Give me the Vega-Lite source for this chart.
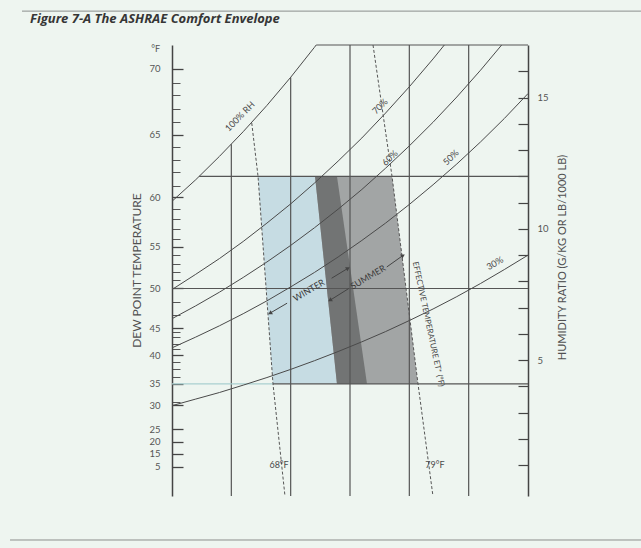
{
  "$schema": "https://vega.github.io/schema/vega-lite/v6.json",
  "width": 356,
  "height": 451,
  "autosize": {"type": "none"},
  "padding": {"left": 172, "top": 45, "right": 113, "bottom": 52},
  "background": "#eef5f0",
  "config": {"view": {"stroke": null}, "font": "Lato", "axis": {"grid": false, "labelOverlap": false}},
  "title": {"text": "Figure 7-A The ASHRAE Comfort Envelope", "anchor": "start", "frame": "group", "dx": -142, "offset": -25.5, "baseline": "alphabetic", "font": "Open Sans", "fontSize": 13, "fontStyle": "italic", "fontWeight": "bold", "color": "#363636"},
  "datasets": {
    "zones": [
      {"zone": "winter", "W": 12, "TL": 67.25, "TR": 73.9},
      {"zone": "winter", "W": 4.1, "TL": 68.51, "TR": 76.43},
      {"zone": "summer", "W": 12, "TL": 72.05, "TR": 78.54},
      {"zone": "summer", "W": 4.1, "TL": 73.9, "TR": 80.73},
      {"zone": "overlap", "W": 12, "TL": 72.05, "TR": 73.9},
      {"zone": "overlap", "W": 4.1, "TL": 73.9, "TR": 76.43}
    ],
    "curves": [
      {"rh": "100%", "T": 60, "W": 11.05}, {"rh": "100%", "T": 62, "W": 11.87}, {"rh": "100%", "T": 64, "W": 12.76}, {"rh": "100%", "T": 66, "W": 13.7}, {"rh": "100%", "T": 68, "W": 14.7}, {"rh": "100%", "T": 70, "W": 15.77}, {"rh": "100%", "T": 72, "W": 16.91}, {"rh": "100%", "T": 72.15, "W": 17},
      {"rh": "70%", "T": 60, "W": 7.69}, {"rh": "70%", "T": 62, "W": 8.27}, {"rh": "70%", "T": 64, "W": 8.87}, {"rh": "70%", "T": 66, "W": 9.52}, {"rh": "70%", "T": 68, "W": 10.22}, {"rh": "70%", "T": 70, "W": 10.95}, {"rh": "70%", "T": 72, "W": 11.74}, {"rh": "70%", "T": 74, "W": 12.58}, {"rh": "70%", "T": 76, "W": 13.46}, {"rh": "70%", "T": 78, "W": 14.41}, {"rh": "70%", "T": 80, "W": 15.41}, {"rh": "70%", "T": 82, "W": 16.47}, {"rh": "70%", "T": 82.95, "W": 17},
      {"rh": "60%", "T": 60, "W": 6.58}, {"rh": "60%", "T": 62, "W": 7.07}, {"rh": "60%", "T": 64, "W": 7.59}, {"rh": "60%", "T": 66, "W": 8.15}, {"rh": "60%", "T": 68, "W": 8.74}, {"rh": "60%", "T": 70, "W": 9.37}, {"rh": "60%", "T": 72, "W": 10.04}, {"rh": "60%", "T": 74, "W": 10.75}, {"rh": "60%", "T": 76, "W": 11.5}, {"rh": "60%", "T": 78, "W": 12.31}, {"rh": "60%", "T": 80, "W": 13.16}, {"rh": "60%", "T": 82, "W": 14.06}, {"rh": "60%", "T": 84, "W": 15.02}, {"rh": "60%", "T": 86, "W": 16.04}, {"rh": "60%", "T": 87.78, "W": 17},
      {"rh": "50%", "T": 60, "W": 5.47}, {"rh": "50%", "T": 62, "W": 5.88}, {"rh": "50%", "T": 64, "W": 6.31}, {"rh": "50%", "T": 66, "W": 6.77}, {"rh": "50%", "T": 68, "W": 7.26}, {"rh": "50%", "T": 70, "W": 7.79}, {"rh": "50%", "T": 72, "W": 8.34}, {"rh": "50%", "T": 74, "W": 8.93}, {"rh": "50%", "T": 76, "W": 9.56}, {"rh": "50%", "T": 78, "W": 10.22}, {"rh": "50%", "T": 80, "W": 10.93}, {"rh": "50%", "T": 82, "W": 11.68}, {"rh": "50%", "T": 84, "W": 12.47}, {"rh": "50%", "T": 86, "W": 13.31}, {"rh": "50%", "T": 88, "W": 14.2}, {"rh": "50%", "T": 90, "W": 15.15},
      {"rh": "30%", "T": 60, "W": 3.27}, {"rh": "30%", "T": 62, "W": 3.52}, {"rh": "30%", "T": 64, "W": 3.77}, {"rh": "30%", "T": 66, "W": 4.05}, {"rh": "30%", "T": 68, "W": 4.34}, {"rh": "30%", "T": 70, "W": 4.65}, {"rh": "30%", "T": 72, "W": 4.98}, {"rh": "30%", "T": 74, "W": 5.33}, {"rh": "30%", "T": 76, "W": 5.7}, {"rh": "30%", "T": 78, "W": 6.09}, {"rh": "30%", "T": 80, "W": 6.51}, {"rh": "30%", "T": 82, "W": 6.95}, {"rh": "30%", "T": 84, "W": 7.42}, {"rh": "30%", "T": 86, "W": 7.92}, {"rh": "30%", "T": 88, "W": 8.45}, {"rh": "30%", "T": 90, "W": 9.0}
    ],
    "vgrid": [
      {"T": 65, "W": -0.17, "W2": 13.22},
      {"T": 70, "W": -0.17, "W2": 15.77},
      {"T": 75, "W": -0.17, "W2": 17},
      {"T": 80, "W": -0.17, "W2": 17},
      {"T": 85, "W": -0.17, "W2": 17}
    ],
    "hgrid": [
      {"W": 17, "T": 72.15, "T2": 90},
      {"W": 12, "T": 62.29, "T2": 90},
      {"W": 7.73, "T": 60, "T2": 90},
      {"W": 4.1, "T": 68.51, "T2": 90}
    ],
    "hteal": [
      {"W": 4.1, "T": 60, "T2": 68.51}
    ],
    "et": [
      {"et": "68", "T": 66.72, "W": 14.03}, {"et": "68", "T": 67.25, "W": 12}, {"et": "68", "T": 68.51, "W": 4.1}, {"et": "68", "T": 69.52, "W": -0.17},
      {"et": "79", "T": 76.94, "W": 17}, {"et": "79", "T": 78.54, "W": 12}, {"et": "79", "T": 80.73, "W": 4.1}, {"et": "79", "T": 81.99, "W": -0.17}
    ],
    "arrows": [
      {"seg": "wl", "T": 68.26, "W": 6.79}, {"seg": "wl", "T": 69.7, "W": 7.17},
      {"seg": "wr", "T": 73.45, "W": 8.12}, {"seg": "wr", "T": 74.83, "W": 8.5},
      {"seg": "sl", "T": 73.31, "W": 7.28}, {"seg": "sl", "T": 74.9, "W": 7.73},
      {"seg": "sr", "T": 78.1, "W": 8.55}, {"seg": "sr", "T": 79.47, "W": 8.99}
    ],
    "heads": [
      {"dir": "left", "T": 68.26, "W": 6.79},
      {"dir": "right", "T": 74.83, "W": 8.5},
      {"dir": "left", "T": 73.31, "W": 7.28},
      {"dir": "right", "T": 79.47, "W": 8.99}
    ],
    "labels": [
      {"label": "100% RH", "T": 65.73, "W": 14.28},
      {"label": "70%", "T": 77.53, "W": 14.66},
      {"label": "60%", "T": 78.37, "W": 12.7},
      {"label": "50%", "T": 83.51, "W": 12.72},
      {"label": "30%", "T": 87.22, "W": 8.69},
      {"label": "WINTER", "T": 71.54, "W": 7.66},
      {"label": "SUMMER", "T": 76.52, "W": 8.16},
      {"label": "EFFECTIVE TEMPERATURE ET* (°F)", "T": 81.57, "W": 6.37},
      {"label": "68°F", "T": 69.02, "W": 1.01},
      {"label": "79°F", "T": 82.16, "W": 1.01},
      {"label": "°F", "T": 60, "W": 16.84}
    ],
    "chrome": [
      {"T": 47.36, "T2": 99.52, "W": 18.29},
      {"T": 46.35, "T2": 99.52, "W": -1.845}
    ]
  },
  "layer": [
    {
      "data": {"name": "zones"},
      "transform": [{"filter": "datum.zone == 'winter'"}],
      "mark": {"type": "area", "orient": "horizontal", "color": "#c6dce3", "opacity": 1},
      "encoding": {
        "y": {"field": "W", "type": "quantitative", "scale": {"domain": [-0.17, 17], "nice": false, "zero": false}, "axis": null},
        "x": {"field": "TL", "type": "quantitative", "scale": {"domain": [60, 90], "nice": false, "zero": false}, "axis": null, "stack": null},
        "x2": {"field": "TR"}
      }
    },
    {
      "data": {"name": "zones"},
      "transform": [{"filter": "datum.zone == 'summer'"}],
      "mark": {"type": "area", "orient": "horizontal", "color": "#a2a5a5", "opacity": 1},
      "encoding": {
        "y": {"field": "W", "type": "quantitative", "scale": {"domain": [-0.17, 17], "nice": false, "zero": false}, "axis": null},
        "x": {"field": "TL", "type": "quantitative", "scale": {"domain": [60, 90], "nice": false, "zero": false}, "axis": null, "stack": null},
        "x2": {"field": "TR"}
      }
    },
    {
      "data": {"name": "zones"},
      "transform": [{"filter": "datum.zone == 'overlap'"}],
      "mark": {"type": "area", "orient": "horizontal", "color": "#727474", "opacity": 1},
      "encoding": {
        "y": {"field": "W", "type": "quantitative", "scale": {"domain": [-0.17, 17], "nice": false, "zero": false}, "axis": null},
        "x": {"field": "TL", "type": "quantitative", "scale": {"domain": [60, 90], "nice": false, "zero": false}, "axis": null, "stack": null},
        "x2": {"field": "TR"}
      }
    },
    {
      "data": {"name": "vgrid"},
      "mark": {"type": "rule", "color": "#555555", "strokeWidth": 1.2},
      "encoding": {
        "x": {"field": "T", "type": "quantitative", "scale": {"domain": [60, 90], "nice": false, "zero": false}, "axis": null},
        "y": {"field": "W", "type": "quantitative", "scale": {"domain": [-0.17, 17], "nice": false, "zero": false},
              "axis": {"orient": "left", "values": [15.56, 15.08, 14.57, 14.06, 13.11, 12.63, 12.16, 11.65, 10.77, 10.39, 10.01, 9.63, 8.99, 8.68, 8.36, 8.04, 7.22, 6.71, 6.08, 5.89, 5.63, 5.44, 4.94, 4.68, 4.37, 3.41],
                       "labels": false, "domain": false, "title": null, "tickSize": -8, "tickColor": "#555555", "tickWidth": 1}},
        "y2": {"field": "W2"}
      }
    },
    {
      "data": {"name": "hgrid"},
      "mark": {"type": "rule", "color": "#555555", "strokeWidth": 1.2},
      "encoding": {
        "y": {"field": "W", "type": "quantitative", "scale": {"domain": [-0.17, 17], "nice": false, "zero": false},
              "axis": {"orient": "right", "values": [1, 2, 3, 4, 5, 6, 7, 8, 9, 10, 11, 12, 13, 14, 15, 16],
                       "labelExpr": "datum.value % 5 == 0 ? datum.label : ''",
                       "tickSize": -10, "tickColor": "#444444", "tickWidth": 1.2, "labelPadding": 19,
                       "domainColor": "#444444", "domainWidth": 1.5,
                       "labelFont": "Lato", "labelFontSize": 9.5, "labelColor": "#555555", "labelBaseline": "middle",
                       "title": "HUMIDITY RATIO (G/KG OR LB/1000 LB)", "titleX": 34, "titleY": 212, "titleAngle": -90,
                       "titleAlign": "center", "titleBaseline": "middle", "titleFont": "Lato", "titleFontSize": 11, "titleFontWeight": "normal", "titleColor": "#505050"}},
        "x": {"field": "T", "type": "quantitative", "scale": {"domain": [60, 90], "nice": false, "zero": false}, "axis": null},
        "x2": {"field": "T2"}
      }
    },
    {
      "data": {"name": "hteal"},
      "mark": {"type": "rule", "color": "#a9cfd0", "strokeWidth": 1.2},
      "encoding": {
        "y": {"field": "W", "type": "quantitative", "scale": {"domain": [-0.17, 17], "nice": false, "zero": false}, "axis": null},
        "x": {"field": "T", "type": "quantitative", "scale": {"domain": [60, 90], "nice": false, "zero": false}, "axis": null},
        "x2": {"field": "T2"}
      }
    },
    {
      "data": {"name": "curves"},
      "mark": {"type": "line", "color": "#4a4a4a", "strokeWidth": 1},
      "encoding": {
        "x": {"field": "T", "type": "quantitative", "scale": {"domain": [60, 90], "nice": false, "zero": false},
              "axis": {"orient": "bottom", "values": [60, 61, 62, 63, 64, 65, 66, 67, 68, 69, 70, 71, 72, 73, 74, 75, 76, 77, 78, 79, 80, 81, 82, 83, 84, 85, 86, 87, 88, 89, 90],
                       "labelExpr": "datum.value == 90 ? '90°F' : (datum.value % 10 == 0 ? datum.label : '')",
                       "labelFlush": false,
                       "labelAlign": {"condition": {"test": "datum.value == 60 || datum.value == 90", "value": "left"}, "value": "center"},
                       "labelOffset": {"condition": {"test": "datum.value == 90", "value": -4}, "value": 0},
                       "tickSize": -5, "tickColor": "#444444", "tickWidth": 1.2, "labelPadding": 15,
                       "domainColor": "#444444", "domainWidth": 1.5,
                       "labelFont": "Lato", "labelFontSize": 9.5, "labelColor": "#555555",
                       "title": "OPERATIVE TEMPERATURE", "titleX": 179, "titleY": 39, "titleAlign": "center", "titleBaseline": "middle",
                       "titleFont": "Lato", "titleFontSize": 12, "titleFontWeight": "normal", "titleColor": "#505050"}},
        "y": {"field": "W", "type": "quantitative", "scale": {"domain": [-0.17, 17], "nice": false, "zero": false},
              "axis": {"orient": "left", "values": [16.1, 13.58, 11.21, 9.31, 7.73, 6.21, 5.19, 4.1, 3.29, 2.37, 1.89, 1.43, 0.94],
                       "labelExpr": "['70','65','60','55','50','45','40','35','30','25','20','15','5'][indexof([16.1, 13.58, 11.21, 9.31, 7.73, 6.21, 5.19, 4.1, 3.29, 2.37, 1.89, 1.43, 0.94], datum.value)]",
                       "tickSize": -11, "tickColor": "#444444", "tickWidth": 1.3, "labelPadding": 23,
                       "domainColor": "#444444", "domainWidth": 1.5,
                       "labelFont": "Lato", "labelFontSize": 9.5, "labelColor": "#555555", "labelBaseline": "middle",
                       "title": "DEW POINT TEMPERATURE", "titleX": -36, "titleY": 225, "titleAngle": -90, "titleAlign": "center", "titleBaseline": "middle",
                       "titleFont": "Lato", "titleFontSize": 12, "titleFontWeight": "normal", "titleColor": "#505050"}},
        "detail": {"field": "rh", "type": "nominal"}
      }
    },
    {
      "data": {"name": "et"},
      "mark": {"type": "line", "color": "#555555", "strokeWidth": 1, "strokeDash": [3, 2]},
      "encoding": {
        "x": {"field": "T", "type": "quantitative", "scale": {"domain": [60, 90], "nice": false, "zero": false}, "axis": null},
        "y": {"field": "W", "type": "quantitative", "scale": {"domain": [-0.17, 17], "nice": false, "zero": false}, "axis": null},
        "detail": {"field": "et", "type": "nominal"},
        "order": {"field": "W", "type": "quantitative", "sort": "descending"}
      }
    },
    {
      "data": {"name": "arrows"},
      "mark": {"type": "line", "color": "#444444", "strokeWidth": 1},
      "encoding": {
        "x": {"field": "T", "type": "quantitative", "scale": {"domain": [60, 90], "nice": false, "zero": false}, "axis": null},
        "y": {"field": "W", "type": "quantitative", "scale": {"domain": [-0.17, 17], "nice": false, "zero": false}, "axis": null},
        "detail": {"field": "seg", "type": "nominal"}
      }
    },
    {
      "data": {"name": "heads"},
      "mark": {"type": "point", "filled": true, "color": "#444444", "size": 22, "angle": -30, "opacity": 1},
      "encoding": {
        "x": {"field": "T", "type": "quantitative", "scale": {"domain": [60, 90], "nice": false, "zero": false}, "axis": null},
        "y": {"field": "W", "type": "quantitative", "scale": {"domain": [-0.17, 17], "nice": false, "zero": false}, "axis": null},
        "shape": {"field": "dir", "type": "nominal", "scale": {"domain": ["left", "right"], "range": ["triangle-left", "triangle-right"]}, "legend": null}
      }
    },
    {
      "data": {"name": "labels"},
      "transform": [{"filter": "indexof(['100% RH','70%','60%','50%'], datum.label) >= 0"}],
      "mark": {"type": "text", "font": "Lato", "fontSize": 9, "color": "#4a4a4a", "angle": -45, "align": "center", "baseline": "middle"},
      "encoding": {
        "x": {"field": "T", "type": "quantitative", "scale": {"domain": [60, 90], "nice": false, "zero": false}, "axis": null},
        "y": {"field": "W", "type": "quantitative", "scale": {"domain": [-0.17, 17], "nice": false, "zero": false}, "axis": null},
        "text": {"field": "label"}
      }
    },
    {
      "data": {"name": "labels"},
      "transform": [{"filter": "datum.label == '30%'"}],
      "mark": {"type": "text", "font": "Lato", "fontSize": 9, "color": "#4a4a4a", "angle": -29, "align": "center", "baseline": "middle"},
      "encoding": {
        "x": {"field": "T", "type": "quantitative", "scale": {"domain": [60, 90], "nice": false, "zero": false}, "axis": null},
        "y": {"field": "W", "type": "quantitative", "scale": {"domain": [-0.17, 17], "nice": false, "zero": false}, "axis": null},
        "text": {"field": "label"}
      }
    },
    {
      "data": {"name": "labels"},
      "transform": [{"filter": "datum.label == 'WINTER' || datum.label == 'SUMMER'"}],
      "mark": {"type": "text", "font": "Lato", "fontSize": 9, "color": "#3a3a3a", "angle": -30.5, "align": "center", "baseline": "middle"},
      "encoding": {
        "x": {"field": "T", "type": "quantitative", "scale": {"domain": [60, 90], "nice": false, "zero": false}, "axis": null},
        "y": {"field": "W", "type": "quantitative", "scale": {"domain": [-0.17, 17], "nice": false, "zero": false}, "axis": null},
        "text": {"field": "label"}
      }
    },
    {
      "data": {"name": "labels"},
      "transform": [{"filter": "datum.label == 'EFFECTIVE TEMPERATURE ET* (°F)'"}],
      "mark": {"type": "text", "font": "Lato", "fontSize": 8, "color": "#4a4a4a", "angle": 78, "align": "center", "baseline": "middle"},
      "encoding": {
        "x": {"field": "T", "type": "quantitative", "scale": {"domain": [60, 90], "nice": false, "zero": false}, "axis": null},
        "y": {"field": "W", "type": "quantitative", "scale": {"domain": [-0.17, 17], "nice": false, "zero": false}, "axis": null},
        "text": {"field": "label"}
      }
    },
    {
      "data": {"name": "labels"},
      "transform": [{"filter": "datum.label == '68°F' || datum.label == '79°F'"}],
      "mark": {"type": "text", "font": "Lato", "fontSize": 9, "color": "#4a4a4a", "align": "center", "baseline": "middle"},
      "encoding": {
        "x": {"field": "T", "type": "quantitative", "scale": {"domain": [60, 90], "nice": false, "zero": false}, "axis": null},
        "y": {"field": "W", "type": "quantitative", "scale": {"domain": [-0.17, 17], "nice": false, "zero": false}, "axis": null},
        "text": {"field": "label"}
      }
    },
    {
      "data": {"name": "labels"},
      "transform": [{"filter": "datum.label == '°F'"}],
      "mark": {"type": "text", "font": "Lato", "fontSize": 9, "color": "#555555", "align": "right", "baseline": "middle", "dx": -12},
      "encoding": {
        "x": {"field": "T", "type": "quantitative", "scale": {"domain": [60, 90], "nice": false, "zero": false}, "axis": null},
        "y": {"field": "W", "type": "quantitative", "scale": {"domain": [-0.17, 17], "nice": false, "zero": false}, "axis": null},
        "text": {"field": "label"}
      }
    },
    {
      "data": {"name": "chrome"},
      "mark": {"type": "rule", "color": "#8c8f8d", "strokeWidth": 1, "clip": false},
      "encoding": {
        "y": {"field": "W", "type": "quantitative", "scale": {"domain": [-0.17, 17], "nice": false, "zero": false}, "axis": null},
        "x": {"field": "T", "type": "quantitative", "scale": {"domain": [60, 90], "nice": false, "zero": false}, "axis": null},
        "x2": {"field": "T2"}
      }
    }
  ],
  "resolve": {"axis": {"y": "independent"}}
}
